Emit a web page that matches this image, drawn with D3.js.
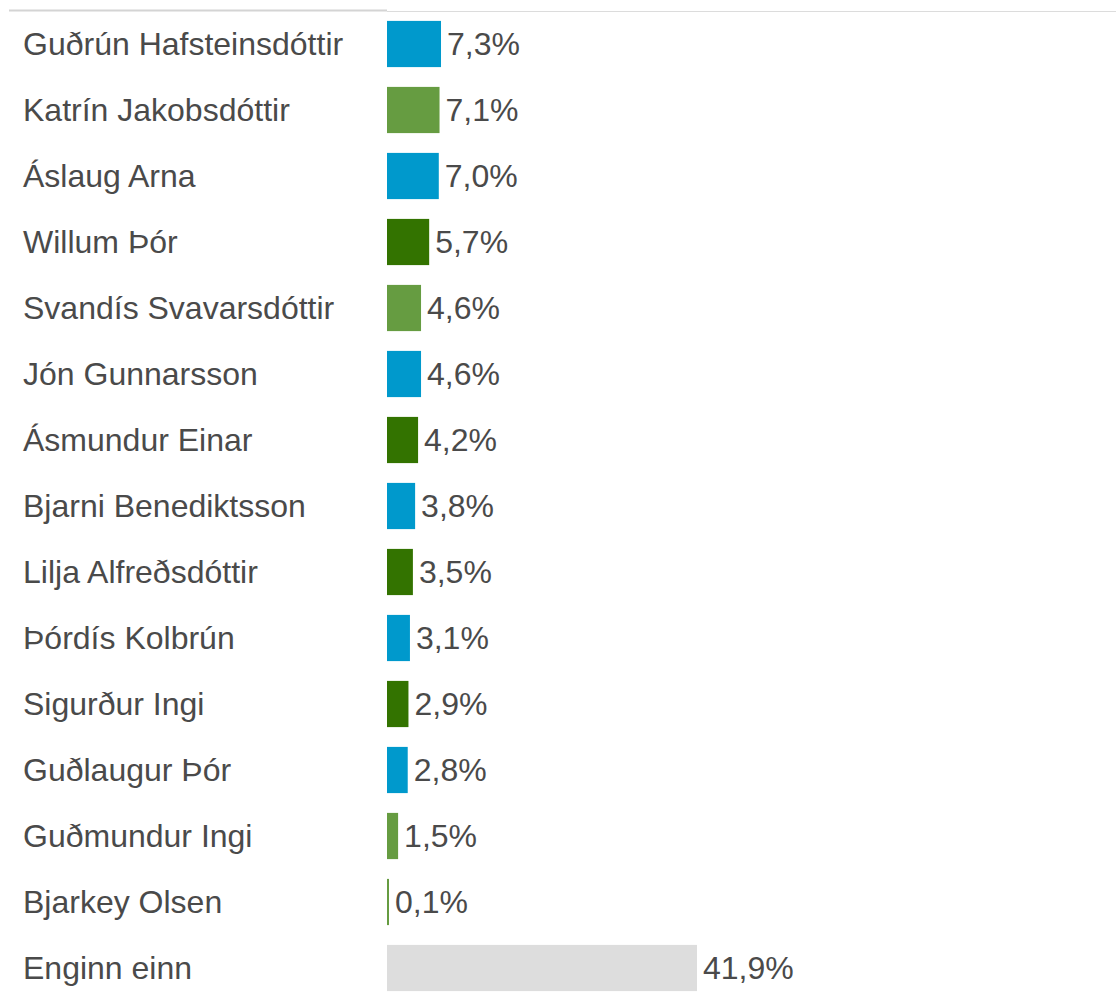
<!DOCTYPE html>
<html>
<head>
<meta charset="utf-8">
<script src="https://cdn.jsdelivr.net/npm/d3@7"></script>
<style>
  body { margin: 0; background: #fff; }
</style>
</head>
<body>
<script>
var names = ["Guðrún Hafsteinsdóttir", "Katrín Jakobsdóttir", "Áslaug Arna", "Willum Þór",
  "Svandís Svavarsdóttir", "Jón Gunnarsson", "Ásmundur Einar", "Bjarni Benediktsson",
  "Lilja Alfreðsdóttir", "Þórdís Kolbrún", "Sigurður Ingi", "Guðlaugur Þór",
  "Guðmundur Ingi", "Bjarkey Olsen", "Enginn einn"];
var values = [7.3, 7.1, 7.0, 5.7, 4.6, 4.6, 4.2, 3.8, 3.5, 3.1, 2.9, 2.8, 1.5, 0.1, 41.9];
var parties = ["D", "V", "D", "B", "V", "D", "B", "D", "B", "D", "B", "D", "V", "V", "none"];
var partyColors = { D: "#0099cc", V: "#669c41", B: "#337300", none: "#dddddd" };

const w = 1116, h = 994;
const left = 387;
const font = "'Liberation Sans', Arial, sans-serif";

const svg = d3.select("body").append("svg")
  .attr("width", w)
  .attr("height", h);

const x = d3.scaleLinear().domain([0, 41.9]).range([0, 310]);
const y = d3.scaleBand().domain(names).range([11, 11 + 66 * names.length])
  .paddingInner(0.3).paddingOuter(0.15);

// top rule
svg.append("line")
  .attr("x1", 9).attr("x2", left)
  .attr("y1", 10.5).attr("y2", 10.5)
  .attr("stroke", "#d4d4d4").attr("stroke-width", 2);
svg.append("line")
  .attr("x1", left).attr("x2", w)
  .attr("y1", 11.5).attr("y2", 11.5)
  .attr("stroke", "#dcdcdc").attr("stroke-width", 1);

var rows = svg.selectAll("g.row")
  .data(names)
  .enter()
  .append("g")
  .attr("class", "row");

rows.append("text")
  .attr("x", 23)
  .attr("y", (d) => y(d) + y.bandwidth() / 2 + 11)
  .attr("font-family", font)
  .attr("font-size", 32)
  .attr("fill", "#4a4a4a")
  .text((d) => d);

rows.append("rect")
  .attr("x", left)
  .attr("y", (d) => y(d))
  .attr("width", (d, i) => Math.max(2, x(values[i])))
  .attr("height", y.bandwidth())
  .attr("fill", (d, i) => partyColors[parties[i]]);

rows.append("text")
  .attr("x", (d, i) => left + Math.max(2, x(values[i])) + 6)
  .attr("y", (d) => y(d) + y.bandwidth() / 2 + 11)
  .attr("font-family", font)
  .attr("font-size", 32)
  .attr("fill", "#4a4a4a")
  .text((d, i) => values[i].toFixed(1).replace(".", ",") + "%");
</script>
</body>
</html>
